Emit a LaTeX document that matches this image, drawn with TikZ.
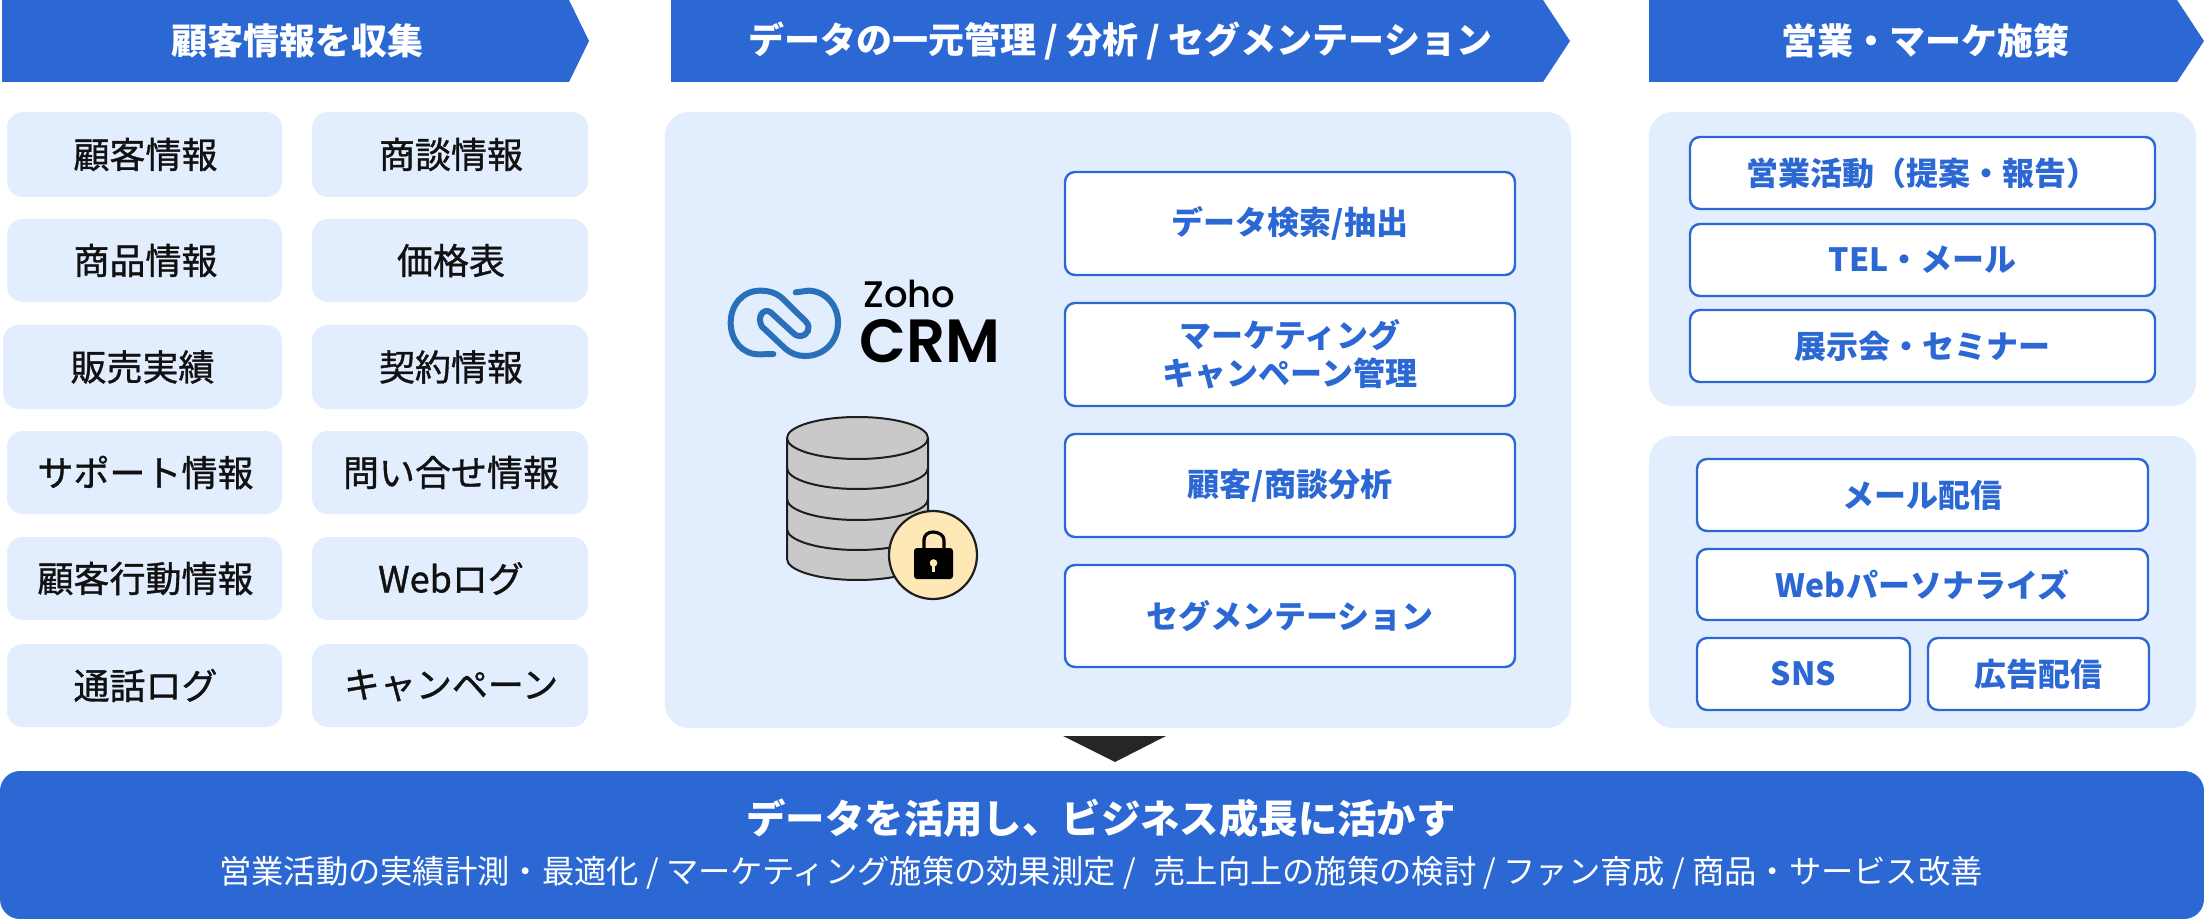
\documentclass[tikz,border=0pt]{standalone}
\usepackage{fontspec}
\setmainfont{Noto Sans CJK JP}
\newfontfamily\medfont[FakeBold=1.0]{Noto Sans CJK JP}
\newfontfamily\logofont[UprightFont=* Medium,BoldFont=* SemiBold]{Poppins}
\definecolor{mainblue}{HTML}{2B68D3}
\definecolor{panelblue}{HTML}{E2EEFE}
\definecolor{cellink}{HTML}{111111}
\definecolor{logoblue}{HTML}{2A70B8}
\definecolor{dbgrey}{HTML}{C9C9C9}
\definecolor{dbline}{HTML}{1E1E1E}
\definecolor{lockbg}{HTML}{FDE8B6}
\definecolor{arrowink}{HTML}{262626}
\tikzset{
  cellbox/.style={fill=panelblue,rounded corners=8pt,text=cellink,font=\medfont\fontsize{18}{22}\selectfont,inner sep=0pt},
  panelbox/.style={fill=panelblue,rounded corners=12pt,inner sep=0pt},
  actionbox/.style={draw=mainblue,line width=1.2pt,fill=white,rounded corners=5pt,text=mainblue,
     font=\bfseries\fontsize{16}{19}\selectfont,align=center,inner sep=0pt},
  headtext/.style={text=white,font=\bfseries\fontsize{18}{22}\selectfont,inner sep=0pt},
  dbstroke/.style={draw=dbline,line width=1pt,line join=round},
}
% style, name, x0, y0, x1, y1, text
\newcommand\placebox[7]{%
  \pgfmathsetmacro\bxw{(#5-#3)*0.5}%
  \pgfmathsetmacro\bxh{(#6-#4)*0.5}%
  \pgfmathsetmacro\bxx{(#3+#5)/2}%
  \pgfmathsetmacro\bxy{(#4+#6)/2}%
  \node[#1,minimum width=\bxw pt,minimum height=\bxh pt] (#2) at (\bxx,\bxy) {#7};%
}
% x0, notch x, tip x, text cx, name, text
\newcommand\headarrow[6]{%
  \fill[mainblue] (#1,0) -- (#2,0) -- (#3,41) -- (#2,82) -- (#1,82) -- cycle;
  \node[headtext] (#5) at (#4,41) {#6};%
}
\begin{document}
\begin{tikzpicture}[x=0.5pt,y=-0.5pt]
\useasboundingbox (0,0) rectangle (2204,919);
\fill[white] (0,0) rectangle (2204,919);
% headers
\headarrow{2}{569}{589}{297}{hleft}{顧客情報を収集}
\headarrow{671}{1543}{1570}{1120}{hmid}{データの一元管理 / 分析 / セグメンテーション}
\headarrow{1649}{2177}{2204}{1925}{hright}{営業・マーケ施策}
% left cells
\placebox{cellbox}{c1}{7}{112}{282}{197}{\hspace{1pt}顧客情報}
\placebox{cellbox}{c2}{312}{112}{588}{197}{\hspace{1pt}商談情報}
\placebox{cellbox}{c3}{7}{219}{282}{302}{\hspace{1pt}商品情報}
\placebox{cellbox}{c4}{312}{219}{588}{302}{\hspace{1pt}価格表}
\placebox{cellbox}{c5}{3}{325}{282}{409}{販売実績}
\placebox{cellbox}{c6}{312}{325}{588}{409}{\hspace{1pt}契約情報}
\placebox{cellbox}{c7}{7}{431}{282}{514}{\hspace{1pt}サポート情報}
\placebox{cellbox}{c8}{312}{431}{588}{514}{\hspace{1pt}問い合せ情報}
\placebox{cellbox}{c9}{7}{537}{282}{620}{\hspace{1pt}顧客行動情報}
\placebox{cellbox}{c10}{312}{537}{588}{620}{\hspace{1pt}Webログ}
\placebox{cellbox}{c11}{7}{644}{282}{727}{\hspace{1pt}通話ログ}
\placebox{cellbox}{c12}{312}{644}{588}{727}{\hspace{1pt}キャンペーン}
% panels
\placebox{panelbox}{pmid}{665}{112}{1571}{728}{}
\placebox{panelbox}{pr1}{1649}{112}{2196}{406}{}
\placebox{panelbox}{pr2}{1649}{436}{2196}{728}{}
% middle action boxes
\placebox{actionbox}{m1}{1065}{172}{1515}{275}{データ検索/抽出}
\placebox{actionbox}{m2}{1065}{303}{1515}{406}{マーケティング\\キャンペーン管理}
\placebox{actionbox}{m3}{1065}{434}{1515}{537}{顧客/商談分析}
\placebox{actionbox}{m4}{1065}{565}{1515}{667}{セグメンテーション}
% right action boxes
\placebox{actionbox}{r1}{1690}{137}{2155}{209}{営業活動（提案・報告）}
\placebox{actionbox}{r2}{1690}{224}{2155}{296}{TEL・メール}
\placebox{actionbox}{r3}{1690}{310}{2155}{382}{展示会・セミナー}
\placebox{actionbox}{r4}{1697}{459}{2148}{531}{メール配信}
\placebox{actionbox}{r5}{1697}{549}{2148}{620}{Webパーソナライズ}
\placebox{actionbox}{r6}{1697}{638}{1910}{710}{SNS}
\placebox{actionbox}{r7}{1928}{638}{2149}{710}{広告配信}
% logo ring (one continuous stroke)
\begin{scope}[shift={(700,260)},x=0.1667pt,y=-0.1667pt]
\draw[logoblue,line width=3pt,line cap=round,line join=round]
  (220,282) -- (178,283) .. controls (125,283) and (92,240) .. (92,188)
  .. controls (92,135) and (128,92) .. (180,92)
  .. controls (210,92) and (232,100) .. (250,118)
  -- (318,185) .. controls (335,203) and (322,228) .. (300,228)
  .. controls (288,228) and (282,222) .. (275,215)
  -- (212,157) .. controls (192,142) and (168,170) .. (186,200)
  -- (255,265) .. controls (272,280) and (292,288) .. (315,288)
  .. controls (372,288) and (414,245) .. (414,188)
  .. controls (414,135) and (375,92) .. (325,92)
  -- (287,97);
\end{scope}
\node[inner sep=0pt,anchor=base west,font=\logofont\fontsize{18.5}{22}\selectfont,text=black] (zoho) at (863,308) {Zoho};
\node[inner sep=0pt,anchor=base west,font=\logofont\bfseries\fontsize{30.5}{34}\selectfont,text=black] (crm) at (859,363) {CRM};
% database
\path[fill=dbgrey,dbstroke] (787,438) -- (787,559) arc[start angle=180,end angle=0,x radius=70.5,y radius=21] -- (928,438) -- cycle;
\foreach \yy in {468,499,529}{
  \draw[dbstroke] (787,\yy) arc[start angle=180,end angle=0,x radius=70.5,y radius=21];
}
\path[fill=dbgrey,dbstroke] (857.5,438) ellipse[x radius=70.5,y radius=21];
% lock
\path[fill=lockbg,draw=dbline,line width=1.1pt] (933,555) circle[radius=44];
\draw[black,line width=1.6pt] (924,550) -- (924,540) .. controls (924,535) and (928,532) .. (933,532)
  .. controls (938,532) and (944,535) .. (944,540) -- (944,550);
\fill[black,rounded corners=1.5pt] (914,548) rectangle (953,579);
\fill[lockbg] (933.5,563) circle[radius=3.8];
\fill[lockbg] (931.7,563) rectangle (935.3,572);
% arrow
\fill[arrowink] (1063,736) -- (1166,736) -- (1115,762) -- cycle;
% bottom bar
\placebox{fill=mainblue,rounded corners=10pt,inner sep=0pt}{bar}{0}{771}{2204}{919}{}
\node[text=white,font=\bfseries\fontsize{19.7}{24}\selectfont,inner sep=0pt] (bt1) at (1101,818) {データを活用し、ビジネス成長に活かす};
\node[text=white,font=\fontsize{16.15}{20}\selectfont,inner sep=0pt] (bt2) at (1101,873) {営業活動の実績計測・最適化 / マーケティング施策の効果測定 /\hspace{0.55em}売上向上の施策の検討 / ファン育成 / 商品・サービス改善};
\end{tikzpicture}
\end{document}
